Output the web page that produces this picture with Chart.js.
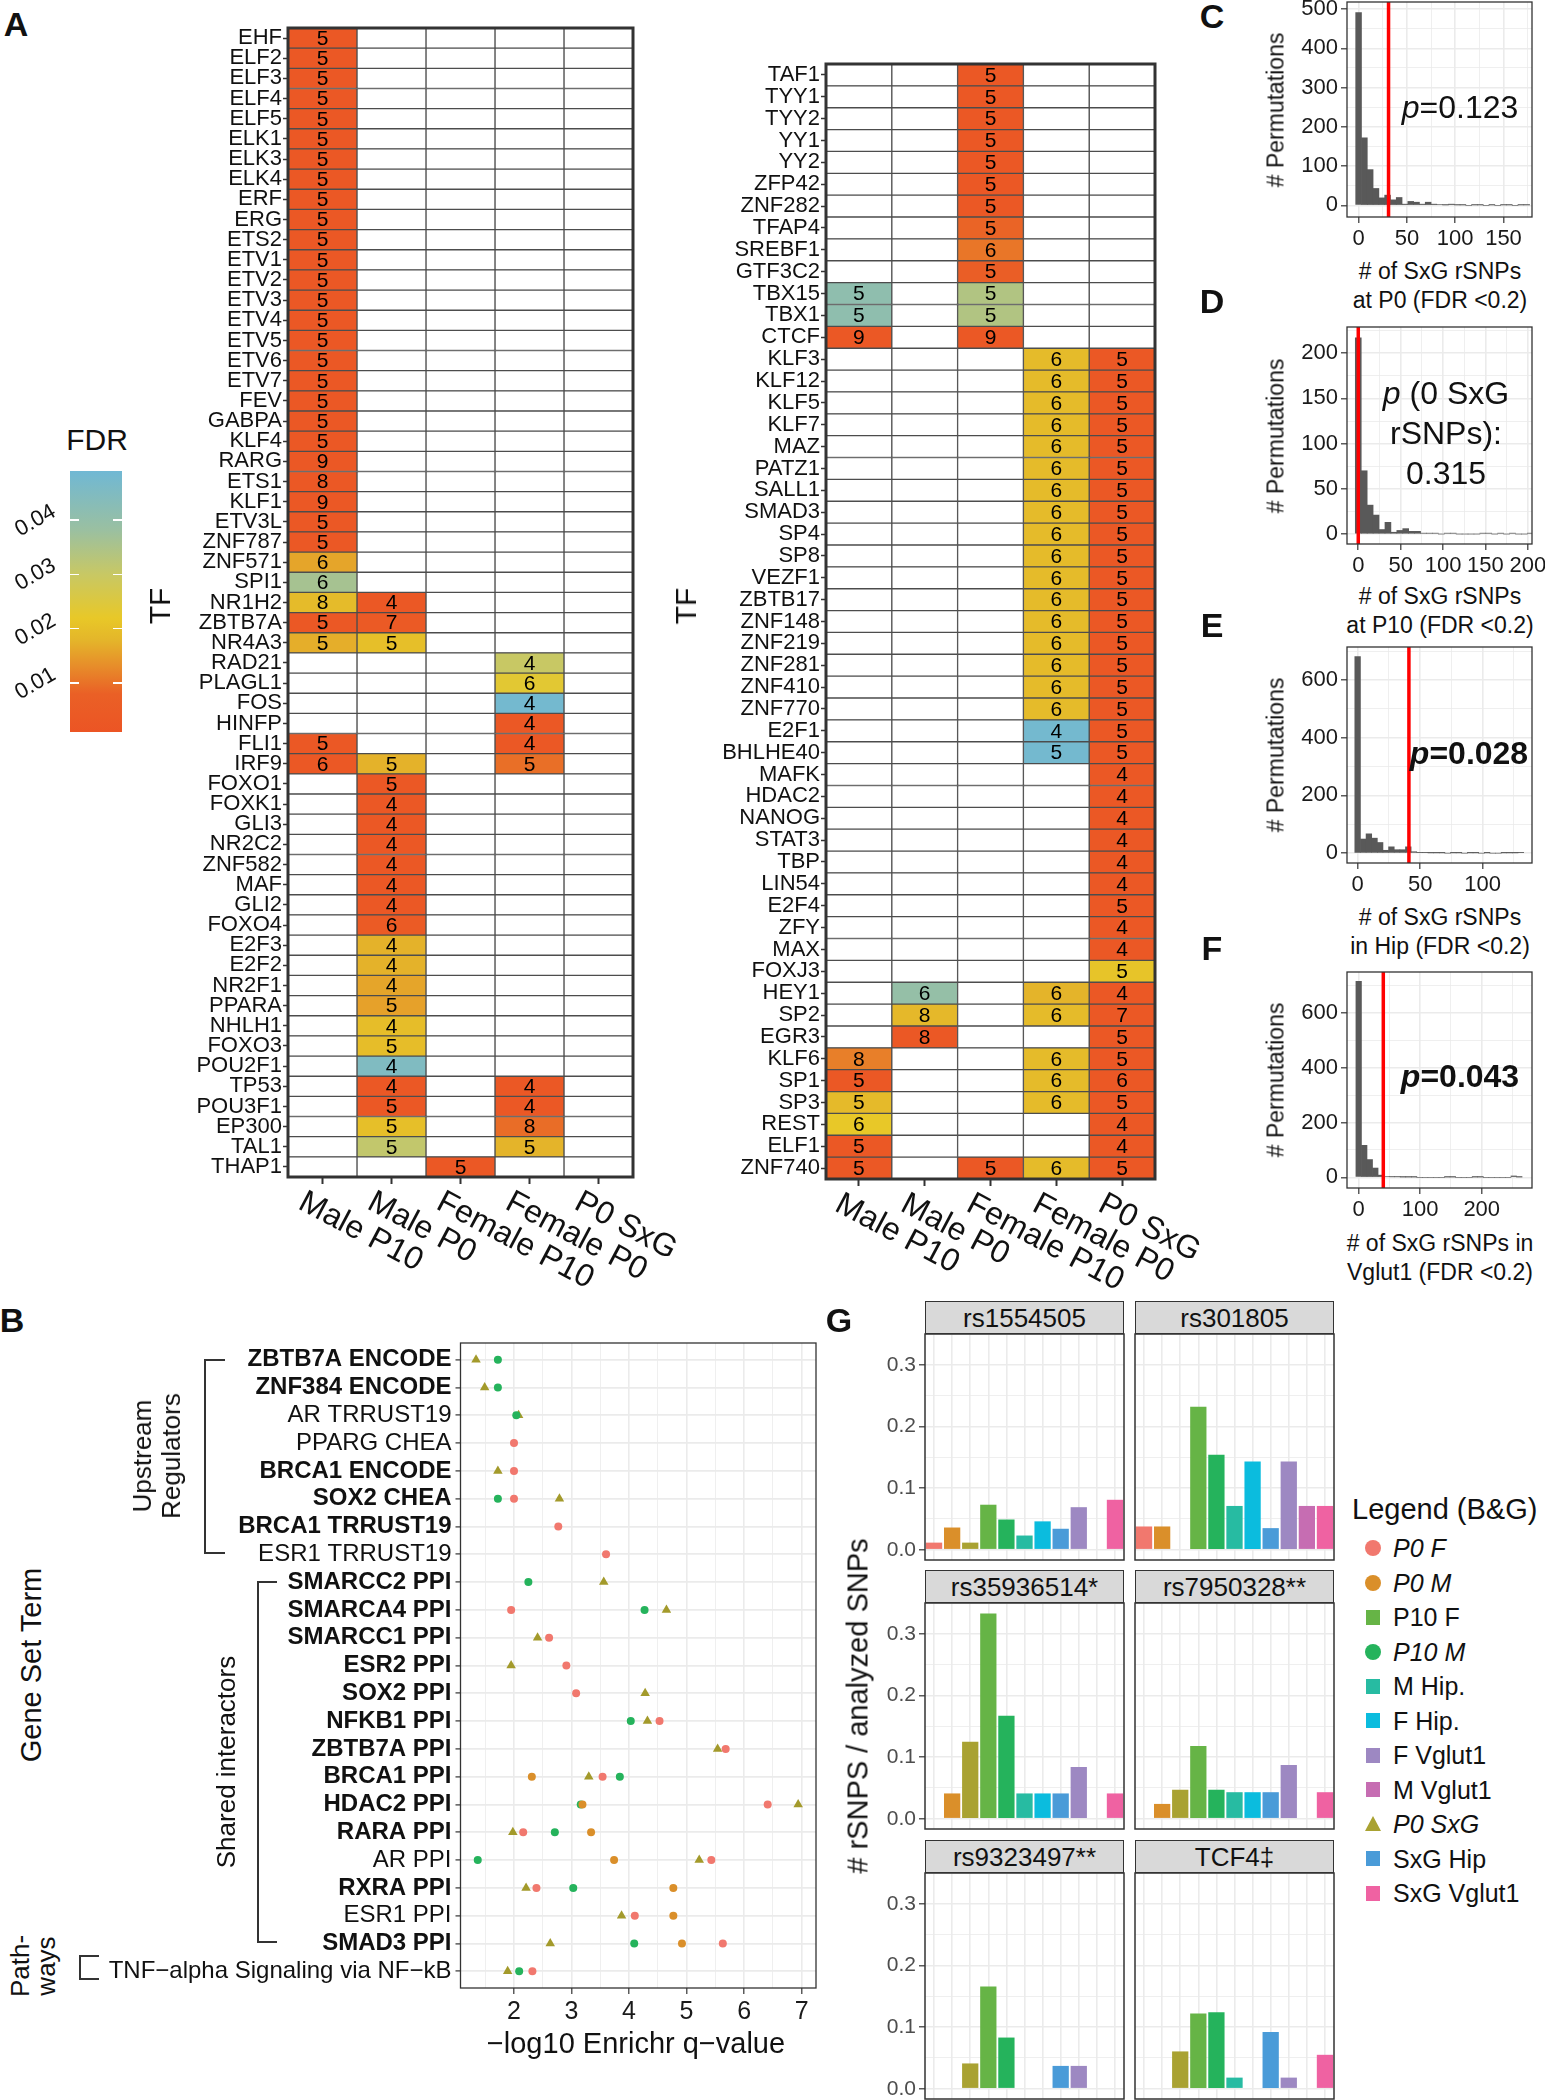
<!DOCTYPE html>
<html>
<head>
<meta charset="utf-8">
<script src="https://cdn.jsdelivr.net/npm/chart.js@4.4.1/dist/chart.umd.min.js"></script>
<style>
  html, body { margin: 0; padding: 0; background: #fff; }
  #fig { position: relative; width: 1545px; height: 2100px; overflow: hidden;
         font-family: 'Liberation Sans', Arial, Helvetica, sans-serif; color: #111; }
  #fig canvas { position: absolute; }
  .t { position: absolute; white-space: nowrap; line-height: 1; }
  .box { position: absolute; box-sizing: border-box; }
</style>
</head>
<body>
<div id="fig"></div>
<script>
// ---------- Panel A : TF heatmaps (number = motif count, colour = FDR) ----------
const _ = null;
const R = 0.003;   // deep red cells
const Y = 0.019;   // yellow cells
const heatCols = ['Male P10', 'Male P0', 'Female P10', 'Female P0', 'P0 SxG'];

const leftTFs = ['EHF','ELF2','ELF3','ELF4','ELF5','ELK1','ELK3','ELK4','ERF','ERG',
  'ETS2','ETV1','ETV2','ETV3','ETV4','ETV5','ETV6','ETV7','FEV','GABPA',
  'KLF4','RARG','ETS1','KLF1','ETV3L','ZNF787','ZNF571','SPI1','NR1H2','ZBTB7A',
  'NR4A3','RAD21','PLAGL1','FOS','HINFP','FLI1','IRF9','FOXO1','FOXK1','GLI3',
  'NR2C2','ZNF582','MAF','GLI2','FOXO4','E2F3','E2F2','NR2F1','PPARA','NHLH1',
  'FOXO3','POU2F1','TP53','POU3F1','EP300','TAL1','THAP1'];

const lMaleP10N = [5,5,5,5,5,5,5,5,5,5, 5,5,5,5,5,5,5,5,5,5, 5,9,8,9,5,5,6,6,8,5,
  5,_,_,_,_,5,6,_,_,_, _,_,_,_,_,_,_,_,_,_, _,_,_,_,_,_,_];
const lMaleP10Q = [R,R,R,R,R,R,R,R,R,R, R,R,R,R,R,R,R,R,R,R, R,R,R,R,R,R,.016,.036,.019,R,
  .017,_,_,_,_,R,R,_,_,_, _,_,_,_,_,_,_,_,_,_, _,_,_,_,_,_,_];
const lMaleP0N = [_,_,_,_,_,_,_,_,_,_, _,_,_,_,_,_,_,_,_,_, _,_,_,_,_,_,_,_,4,7,
  5,_,_,_,_,_,5,5,4,4, 4,4,4,4,6,4,4,4,5,4, 5,4,4,5,5,5,_];
const lMaleP0Q = [_,_,_,_,_,_,_,_,_,_, _,_,_,_,_,_,_,_,_,_, _,_,_,_,_,_,_,_,R,.004,
  .020,_,_,_,_,_,.0175,R,R,R, R,R,R,R,.005,.0175,.0175,.016,.0155,.0195,
  .0195,.045,R,R,.020,.031,_];
const lFemaleP10N = [_,_,_,_,_,_,_,_,_,_, _,_,_,_,_,_,_,_,_,_, _,_,_,_,_,_,_,_,_,_,
  _,_,_,_,_,_,_,_,_,_, _,_,_,_,_,_,_,_,_,_, _,_,_,_,_,_,5];
const lFemaleP10Q = [_,_,_,_,_,_,_,_,_,_, _,_,_,_,_,_,_,_,_,_, _,_,_,_,_,_,_,_,_,_,
  _,_,_,_,_,_,_,_,_,_, _,_,_,_,_,_,_,_,_,_, _,_,_,_,_,_,R];
const lFemaleP0N = [_,_,_,_,_,_,_,_,_,_, _,_,_,_,_,_,_,_,_,_, _,_,_,_,_,_,_,_,_,_,
  _,4,6,4,4,4,5,_,_,_, _,_,_,_,_,_,_,_,_,_, _,_,4,4,8,5,_];
const lFemaleP0Q = [_,_,_,_,_,_,_,_,_,_, _,_,_,_,_,_,_,_,_,_, _,_,_,_,_,_,_,_,_,_,
  _,.030,.0235,.048,R,R,.0097,_,_,_, _,_,_,_,_,_,_,_,_,_, _,_,R,R,.0095,.0178,_];
const lSxGN = leftTFs.map(() => _);
const lSxGQ = leftTFs.map(() => _);

const rightTFs = ['TAF1','TYY1','TYY2','YY1','YY2','ZFP42','ZNF282','TFAP4','SREBF1','GTF3C2',
  'TBX15','TBX1','CTCF','KLF3','KLF12','KLF5','KLF7','MAZ','PATZ1','SALL1',
  'SMAD3','SP4','SP8','VEZF1','ZBTB17','ZNF148','ZNF219','ZNF281','ZNF410','ZNF770',
  'E2F1','BHLHE40','MAFK','HDAC2','NANOG','STAT3','TBP','LIN54','E2F4','ZFY',
  'MAX','FOXJ3','HEY1','SP2','EGR3','KLF6','SP1','SP3','REST','ELF1','ZNF740'];

const rMaleP10N = [_,_,_,_,_,_,_,_,_,_, 5,5,9,_,_,_,_,_,_,_, _,_,_,_,_,_,_,_,_,_,
  _,_,_,_,_,_,_,_,_,_, _,_,_,_,_,8,5,5,6,5, 5];
const rMaleP10Q = [_,_,_,_,_,_,_,_,_,_, .041,.041,R,_,_,_,_,_,_,_, _,_,_,_,_,_,_,_,_,_,
  _,_,_,_,_,_,_,_,_,_, _,_,_,_,_,.0115,R,.0188,.022,R, R];
const rMaleP0N = [_,_,_,_,_,_,_,_,_,_, _,_,_,_,_,_,_,_,_,_, _,_,_,_,_,_,_,_,_,_,
  _,_,_,_,_,_,_,_,_,_, _,_,6,8,8,_,_,_,_,_, _];
const rMaleP0Q = [_,_,_,_,_,_,_,_,_,_, _,_,_,_,_,_,_,_,_,_, _,_,_,_,_,_,_,_,_,_,
  _,_,_,_,_,_,_,_,_,_, _,_,.0395,.0185,R,_,_,_,_,_, _];
const rFemaleP10N = [5,5,5,5,5,5,5,5,6,5, 5,5,9,_,_,_,_,_,_,_, _,_,_,_,_,_,_,_,_,_,
  _,_,_,_,_,_,_,_,_,_, _,_,_,_,_,_,_,_,_,_, 5];
const rFemaleP10Q = [R,R,R,R,R,R,R,.0085,.0105,.007, .034,.034,R,_,_,_,_,_,_,_, _,_,_,_,_,_,_,_,_,_,
  _,_,_,_,_,_,_,_,_,_, _,_,_,_,_,_,_,_,_,_, R];
const rFemaleP0N = [_,_,_,_,_,_,_,_,_,_, _,_,_,6,6,6,6,6,6,6, 6,6,6,6,6,6,6,6,6,6,
  4,5,_,_,_,_,_,_,_,_, _,_,6,6,_,6,6,6,_,_, 6];
const rFemaleP0Q = [_,_,_,_,_,_,_,_,_,_, _,_,_,Y,Y,Y,Y,Y,Y,Y, Y,Y,Y,Y,Y,Y,Y,Y,Y,Y,
  .048,.048,_,_,_,_,_,_,_,_, _,_,.0178,Y,_,Y,Y,Y,_,_, Y];
const rSxGN = [_,_,_,_,_,_,_,_,_,_, _,_,_,5,5,5,5,5,5,5, 5,5,5,5,5,5,5,5,5,5,
  5,5,4,4,4,4,4,4,5,4, 4,5,4,7,5,5,6,5,4,4, 5];
const rSxGQ = [_,_,_,_,_,_,_,_,_,_, _,_,_,R,R,R,R,R,R,R, R,R,R,R,R,R,R,R,R,R,
  R,R,R,R,R,R,R,R,R,R, R,.021,R,R,R,R,R,R,R,R, R];

// FDR colour bar
const fdrTicks = [0.01, 0.02, 0.03, 0.04];
const fdrLimits = [0.001, 0.049];
const fdrStops = [
  [0.000, [236, 83, 36]],
  [0.008, [234, 96, 38]],
  [0.013, [231, 140, 42]],
  [0.018, [228, 182, 42]],
  [0.022, [232, 200, 40]],
  [0.030, [200, 200, 100]],
  [0.038, [155, 192, 160]],
  [0.049, [112, 184, 212]]
];

// ---------- Panels C-F : permutation histograms ----------
const cBins = [0,6,12,18,24,30,36,42,48,54,60,66,72,78,84,90,96,102,108,114,120,126,132,138,144,150,156,162,168,174];
const cCounts = [491,172,91,43,19,26,14,20,3,10,8,3,8,3,2,1,3,1,1,0,1,1,0,1,0,1,1,0,1,1];
const cObserved = 31;
const dBins = [0,7,14,21,28,35,42,49,56,63,70,77,84,91,98,105,112,119,126,133,140,147,154,161,168,175,182,189,196,203];
const dCounts = [217,70,32,21,5,13,2,4,6,3,3,1,1,1,0,1,1,0,0,0,0,1,1,0,1,0,1,0,0,1];
const dObserved = 0;
const eBins = [0,4.5,9,13.5,18,22.5,27,31.5,36,40.5,45,49.5,54,58.5,63,67.5,72,76.5,81,85.5,90,94.5,99,103.5,108,112.5,117,121.5,126,130.5];
const eCounts = [681,49,67,52,37,10,22,12,12,22,5,2,2,1,1,1,0,1,1,0,1,1,0,1,0,0,1,1,1,2];
const eObserved = 41;
const fBins = [0,9,18,27,36,45,54,63,72,81,90,99,108,117,126,135,144,153,162,171,180,189,198,207,216,225,234,243,252,261];
const fCounts = [717,117,65,34,8,3,2,2,1,1,1,0,0,0,0,0,1,1,0,0,0,1,1,0,0,0,0,0,5,1];
const fObserved = 40;

const cXTicks = [0, 50, 100, 150], cYTicks = [0, 100, 200, 300, 400, 500];
const dXTicks = [0, 50, 100, 150, 200], dYTicks = [0, 50, 100, 150, 200];
const eXTicks = [0, 50, 100], eYTicks = [0, 200, 400, 600];
const fXTicks = [0, 100, 200], fYTicks = [0, 200, 400, 600];

// ---------- Panel B : Enrichr dot plot ----------
const bTerms = ['ZBTB7A ENCODE','ZNF384 ENCODE','AR TRRUST19','PPARG CHEA','BRCA1 ENCODE','SOX2 CHEA',
  'BRCA1 TRRUST19','ESR1 TRRUST19','SMARCC2 PPI','SMARCA4 PPI','SMARCC1 PPI','ESR2 PPI','SOX2 PPI',
  'NFKB1 PPI','ZBTB7A PPI','BRCA1 PPI','HDAC2 PPI','RARA PPI','AR PPI','RXRA PPI','ESR1 PPI','SMAD3 PPI',
  'TNF\u2212alpha Signaling via NF\u2212kB'];
const bBold = [1,1,0,0,1,1,1,0,1,1,1,1,1,1,1,1,1,1,0,1,0,1,0];
const bP0F   = [_,_,_,2.00,2.00,2.00,2.77,3.60,_,1.95,2.61,2.91,3.08,4.53,5.68,3.54,6.41,2.16,5.43,2.39,4.10,5.63,2.32];
const bP0M   = [_,_,_,_,_,_,_,_,_,_,_,_,_,_,_,2.31,3.19,3.34,3.74,4.77,4.77,4.92,_];
const bP10M  = [1.72,1.72,2.04,_,_,1.72,_,_,2.25,4.27,_,_,_,4.03,_,3.84,3.16,2.71,1.37,3.03,_,4.09,2.09];
const bP0SxG = [1.34,1.49,2.08,_,1.72,2.79,_,_,3.56,4.65,2.41,1.95,4.28,4.32,5.54,3.30,6.94,1.98,5.22,2.21,3.87,2.63,1.89];
const bXTicks = [2, 3, 4, 5, 6, 7];

// ---------- Panel G : rSNP fraction per facet ----------
const gGroups = ['P0 F','P0 M','P0 SxG','P10 F','P10 M','M Hip.','F Hip.','SxG Hip','F Vglut1','M Vglut1','SxG Vglut1'];
const gTitles = ['rs1554505', 'rs301805', 'rs35936514*', 'rs7950328**', 'rs9323497**', 'TCF4\u2021'];
const gRs1554505  = [0.0115, 0.036, 0.0115, 0.073, 0.049, 0.023, 0.046, 0.034, 0.069, _, 0.081];
const gRs301805   = [0.0377, 0.0377, _, 0.232, 0.154, 0.071, 0.143, 0.035, 0.143, 0.071, 0.071];
const gRs35936514 = [_, 0.041, 0.125, 0.333, 0.167, 0.041, 0.041, 0.041, 0.084, _, 0.041];
const gRs7950328  = [_, 0.024, 0.047, 0.118, 0.047, 0.043, 0.043, 0.043, 0.087, _, 0.043];
const gRs9323497  = [_, _, 0.041, 0.166, 0.083, _, _, 0.037, 0.037, _, _];
const gTCF4       = [_, _, 0.0605, 0.122, 0.124, 0.018, _, 0.092, 0.018, _, 0.055];
const gYTicks = [0, 0.1, 0.2, 0.3];
const gLegend = ['P0 F','P0 M','P10 F','P10 M','M Hip.','F Hip.','F Vglut1','M Vglut1','P0 SxG','SxG Hip','SxG Vglut1'];

// ---------- styling ----------
const FONT = "'Liberation Sans', Arial, Helvetica, sans-serif";
const groupColor = {
  'P0 F': '#F1786E', 'P0 M': '#DA8F2A', 'P0 SxG': '#A9A232', 'P10 F': '#66B446', 'P10 M': '#25B35C',
  'M Hip.': '#27BBA2', 'F Hip.': '#0BBCDE', 'SxG Hip': '#4A9BD8', 'F Vglut1': '#9D88C2',
  'M Vglut1': '#C66DB2', 'SxG Vglut1': '#EF62A2'
};
const groupShape = { 'P0 F': 'circle', 'P0 M': 'circle', 'P10 M': 'circle', 'P0 SxG': 'triangle' };

Chart.defaults.font.family = FONT;
Chart.defaults.color = '#1a1a1a';
Chart.defaults.animation = false;
Chart.defaults.responsive = false;
Chart.defaults.maintainAspectRatio = false;
Chart.defaults.events = [];
Chart.defaults.plugins.legend.display = false;
Chart.defaults.plugins.tooltip.enabled = false;

const fig = document.getElementById('fig');

function addCanvas(l, t, w, h) {
  const c = document.createElement('canvas');
  c.width = w; c.height = h;
  c.style.left = l + 'px'; c.style.top = t + 'px';
  c.style.width = w + 'px'; c.style.height = h + 'px';
  fig.appendChild(c);
  return c;
}

// text placed by its centre (or left edge)
function txt(html, x, y, size, o = {}) {
  const d = document.createElement('div');
  d.className = 't';
  d.innerHTML = html;
  d.style.left = x + 'px';
  d.style.top = y + 'px';
  d.style.fontSize = size + 'px';
  if (o.bold) d.style.fontWeight = 'bold';
  if (o.italic) d.style.fontStyle = 'italic';
  if (o.lh) { d.style.lineHeight = o.lh + 'px'; d.style.textAlign = 'center'; }
  const ax = o.anchor === 'left' ? '0' : '-50%';
  d.style.transform = `translate(${ax}, -50%)` + (o.rot ? ` rotate(${o.rot}deg)` : '');
  fig.appendChild(d);
  return d;
}

function box(l, t, w, h, css) {
  const d = document.createElement('div');
  d.className = 'box';
  Object.assign(d.style, { left: l + 'px', top: t + 'px', width: w + 'px', height: h + 'px' }, css);
  fig.appendChild(d);
  return d;
}

function fdrColor(v) {
  if (v == null) return '#ffffff';
  let i = 0;
  while (i < fdrStops.length - 2 && v > fdrStops[i + 1][0]) i++;
  const [a, ca] = fdrStops[i], [b, cb] = fdrStops[i + 1];
  const t = Math.min(1, Math.max(0, (v - a) / (b - a)));
  const c = ca.map((x, k) => Math.round(x + (cb[k] - x) * t));
  return `rgb(${c.join(',')})`;
}

// fixed axis sizes so every plot area lands where the figure has it
const zeroPad = s => { s.paddingLeft = 0; s.paddingRight = 0; s.paddingTop = 0; s.paddingBottom = 0; };
const fixW = w => s => { s.width = w; zeroPad(s); };
const fixH = h => s => { s.height = h; zeroPad(s); };

function withMinor(maj, min, max) {
  const step = maj[1] - maj[0];
  const out = maj.slice();
  if (maj[0] - step / 2 >= min) out.push(maj[0] - step / 2);
  maj.forEach(m => { if (m + step / 2 <= max + 1e-9) out.push(m + step / 2); });
  return out.sort((a, b) => a - b);
}

// ggplot theme_bw style linear axis (major + minor grid)
function linAxis(range, majors, fmt, size, color) {
  const isMaj = v => majors.some(m => Math.abs(m - v) < 1e-9);
  const all = withMinor(majors, range[0], range[1]);
  return {
    type: 'linear', min: range[0], max: range[1], offset: false,
    afterBuildTicks: s => { s.ticks = all.map(v => ({ value: v })); },
    ticks: { autoSkip: false, maxRotation: 0, minRotation: 0, padding: 3,
             font: { size: size }, color: color,
             callback: v => isMaj(v) ? fmt(v) : '' },
    grid: { offset: false, color: '#EBEBEB',
            lineWidth: c => (c.tick && isMaj(c.tick.value)) ? 1.6 : 0.8,
            tickColor: c => (c.tick && isMaj(c.tick.value)) ? '#333333' : 'rgba(0,0,0,0)',
            tickLength: 6, tickWidth: 1.2 },
    border: { display: false }
  };
}

function framePlugin(color, width) {
  return {
    id: 'frame',
    afterDraw(chart) {
      const a = chart.chartArea, c = chart.ctx;
      c.save();
      c.strokeStyle = color; c.lineWidth = width;
      c.strokeRect(a.left, a.top, a.right - a.left, a.bottom - a.top);
      c.restore();
    }
  };
}

function vlinePlugin(value) {
  return {
    id: 'vline',
    afterDatasetsDraw(chart) {
      const x = chart.scales.x.getPixelForValue(value), a = chart.chartArea, c = chart.ctx;
      c.save();
      c.strokeStyle = '#FF0000'; c.lineWidth = 3.5;
      c.beginPath(); c.moveTo(x, a.top); c.lineTo(x, a.bottom); c.stroke();
      c.restore();
    }
  };
}

function cellTextPlugin(counts) {
  return {
    id: 'cellText',
    afterDatasetsDraw(chart) {
      const c = chart.ctx;
      c.save();
      c.font = `21px ${FONT}`; c.fillStyle = '#000';
      c.textAlign = 'center'; c.textBaseline = 'middle';
      counts.forEach((col, d) => {
        const meta = chart.getDatasetMeta(d);
        col.forEach((v, i) => {
          if (v == null) return;
          const el = meta.data[i];
          c.fillText(String(v), (el.x + el.base) / 2, el.y + 1);
        });
      });
      c.restore();
    }
  };
}

function colLabelPlugin(o) {
  return {
    id: 'colLabels',
    afterDraw(chart) {
      const xs = chart.scales.x, c = chart.ctx, b = chart.chartArea.bottom;
      c.save();
      c.font = `${o.size}px ${FONT}`; c.fillStyle = '#111';
      c.textAlign = 'left'; c.textBaseline = 'top';
      heatCols.forEach((t, i) => {
        c.save();
        c.translate(xs.getPixelForValue(i) + o.dx, b + o.dy);
        c.rotate(o.angle * Math.PI / 180);
        c.fillText(t, 0, 0);
        c.restore();
      });
      c.restore();
    }
  };
}

// ---------- Panel A ----------
function heatmap(rows, counts, fdr, area, cbox) {
  const [al, at, ar, ab] = area;
  const [cl, ct, cw, ch] = cbox;
  const cv = addCanvas(cl, ct, cw, ch);
  const datasets = heatCols.map((name, c) => ({
    label: name,
    data: rows.map(() => [c - 0.5, c + 0.5]),
    backgroundColor: fdr[c].map(fdrColor),
    borderColor: '#4d4d4d', borderWidth: 1, borderSkipped: false,
    grouped: false, barPercentage: 1, categoryPercentage: 1
  }));
  new Chart(cv, {
    type: 'bar',
    data: { labels: rows, datasets },
    options: {
      indexAxis: 'y',
      layout: { padding: { left: 0, top: at - ct, right: cl + cw - ar, bottom: 0 } },
      scales: {
        x: { type: 'linear', min: -0.5, max: 4.5, offset: false,
             afterBuildTicks: s => { s.ticks = heatCols.map((n, i) => ({ value: i })); },
             ticks: { display: false },
             grid: { offset: false, drawOnChartArea: false, tickLength: 7, tickColor: '#333', tickWidth: 2 },
             border: { display: false },
             afterFit: fixH(ct + ch - ab) },
        y: { type: 'category', offset: true,
             ticks: { autoSkip: false, font: { size: 22 }, color: '#111', padding: 1 },
             grid: { offset: false, drawOnChartArea: false, tickLength: 5, tickColor: '#333', tickWidth: 1.5 },
             border: { display: false },
             afterFit: fixW(al - cl) }
      }
    },
    plugins: [cellTextPlugin(counts), framePlugin('#333', 3),
              colLabelPlugin({ size: 32, angle: 28, dx: -14, dy: 9 })]
  });
}

heatmap(leftTFs,
  [lMaleP10N, lMaleP0N, lFemaleP10N, lFemaleP0N, lSxGN],
  [lMaleP10Q, lMaleP0Q, lFemaleP10Q, lFemaleP0Q, lSxGQ],
  [288, 28, 633, 1177], [150, 20, 560, 1300]);
heatmap(rightTFs,
  [rMaleP10N, rMaleP0N, rFemaleP10N, rFemaleP0N, rSxGN],
  [rMaleP10Q, rMaleP0Q, rFemaleP10Q, rFemaleP0Q, rSxGQ],
  [826, 64, 1155, 1179], [700, 56, 560, 1270]);

txt('A', 16, 24, 34, { bold: true });
txt('TF', 160, 606, 30, { rot: -90 });
txt('TF', 686, 606, 30, { rot: -90 });

// FDR colour bar legend
(function () {
  const l = 70, t = 471, w = 52, h = 261;
  const span = fdrLimits[1] - fdrLimits[0];
  const stops = fdrStops.map(([v, c]) =>
    `rgb(${c.join(',')}) ${(((v - fdrLimits[0]) / span) * 100).toFixed(1)}%`).join(', ');
  box(l, t, w, h, { background: `linear-gradient(to top, ${stops})` });
  txt('FDR', 97, 440, 30);
  fdrTicks.forEach(v => {
    const y = t + h * (1 - (v - fdrLimits[0]) / span);
    box(l, y - 0.75, 9, 1.5, { background: '#fff' });
    box(l + w - 9, y - 0.75, 9, 1.5, { background: '#fff' });
    txt(v.toFixed(2), 35, y, 22, { rot: -30 });
  });
})();

// ---------- Panels C-F ----------
function histogram(area, bins, counts, xRange, yRange, xTicks, yTicks, observed) {
  const [l, t, r, b] = area;
  const cl = 1272, ct = t - 2, xh = 36;
  const cv = addCanvas(cl, ct, 1545 - cl, b - ct + xh);
  const xa = linAxis(xRange, xTicks, String, 22, '#1a1a1a');
  xa.afterFit = fixH(xh);
  const ya = linAxis(yRange, yTicks, String, 22, '#1a1a1a');
  ya.afterFit = fixW(l - cl);
  new Chart(cv, {
    type: 'bar',
    data: { datasets: [{ data: bins.map((x, i) => ({ x: x, y: counts[i] })),
                         backgroundColor: '#595959', barPercentage: 1, categoryPercentage: 1 }] },
    options: {
      layout: { padding: { left: 0, top: t - ct, right: 1545 - r, bottom: 0 } },
      scales: { x: xa, y: ya }
    },
    plugins: [vlinePlugin(observed), framePlugin('#333', 1.3)]
  });
  txt('# Permutations', 1276, (t + b) / 2, 23, { rot: -90 });
}

histogram([1347, 2, 1532, 217], cBins, cCounts, [-12, 179.5], [-29.7, 518], cXTicks, cYTicks, cObserved);
histogram([1347, 327, 1532, 544], dBins, dCounts, [-13.3, 205], [-11, 229], dXTicks, dYTicks, dObserved);
histogram([1347, 647, 1532, 863], eBins, eCounts, [-8.5, 139.4], [-34, 714], eXTicks, eYTicks, eObserved);
histogram([1347, 972, 1532, 1188], fBins, fCounts, [-19, 281.7], [-39, 751], fXTicks, fYTicks, fObserved);

txt('C', 1212, 16, 34, { bold: true });
txt('D', 1212, 301, 34, { bold: true });
txt('E', 1212, 625, 34, { bold: true });
txt('F', 1212, 948, 34, { bold: true });
txt('# of SxG rSNPs<br>at P0 (FDR &lt;0.2)', 1440, 286, 23, { lh: 29 });
txt('# of SxG rSNPs<br>at P10 (FDR &lt;0.2)', 1440, 611, 23, { lh: 29 });
txt('# of SxG rSNPs<br>in Hip (FDR &lt;0.2)', 1440, 932, 23, { lh: 29 });
txt('# of SxG rSNPs in<br>Vglut1 (FDR &lt;0.2)', 1440, 1258, 23, { lh: 29 });
txt('<i>p</i>=0.123', 1460, 107, 32);
txt('<i>p</i> (0 SxG<br>rSNPs):<br>0.315', 1446, 433, 32, { lh: 40 });
txt('<i>p</i>=0.028', 1469, 753, 32, { bold: true });
txt('<i>p</i>=0.043', 1460, 1076, 32, { bold: true });

// ---------- Panel B ----------
(function () {
  const rowPts = vals => vals.map((v, i) => v == null ? null : { x: v, y: i + 1 }).filter(p => p);
  const series = [
    ['P0 F', bP0F], ['P0 M', bP0M], ['P10 M', bP10M], ['P0 SxG', bP0SxG]
  ];
  const cv = addCanvas(100, 1335, 730, 700);
  const xa = linAxis([1.07, 7.25], bXTicks, String, 25, '#1a1a1a');
  xa.afterFit = fixH(47);
  new Chart(cv, {
    type: 'scatter',
    data: {
      datasets: series.map(([name, vals]) => ({
        label: name,
        data: rowPts(vals),
        pointStyle: groupShape[name] || 'circle',
        pointRadius: groupShape[name] === 'triangle' ? 5.5 : 4,
        pointBackgroundColor: name === 'P0 SxG' ? '#A39A2B' : groupColor[name],
        pointBorderWidth: 0
      }))
    },
    options: {
      layout: { padding: { left: 0, top: 8, right: 14, bottom: 0 } },
      scales: {
        x: xa,
        y: { type: 'linear', reverse: true, min: 0.4, max: 23.6, offset: false,
             afterBuildTicks: s => { s.ticks = bTerms.map((t, i) => ({ value: i + 1 })); },
             ticks: { autoSkip: false, padding: 4, color: '#111',
                      callback: v => bTerms[v - 1],
                      font: c => ({ size: 24, weight: (c.tick && bBold[c.tick.value - 1]) ? 'bold' : 'normal' }) },
             grid: { color: '#EBEBEB', lineWidth: 1.8, tickLength: 5, tickColor: '#333', tickWidth: 1.2 },
             border: { display: false },
             afterFit: fixW(360.5) }
      }
    },
    plugins: [framePlugin('#333', 1.3)]
  });
})();

txt('B', 12, 1320, 34, { bold: true });
txt('Gene Set Term', 31, 1665, 29, { rot: -90 });
txt('Upstream<br>Regulators', 157, 1456, 26, { rot: -90, lh: 29 });
txt('Shared interactors', 226, 1762, 26, { rot: -90 });
txt('Path-<br>ways', 33, 1966, 26, { rot: -90, lh: 26 });
txt('\u2212log10 Enrichr q\u2212value', 636, 2043, 29);
box(204, 1359, 21, 195, { borderLeft: '2px solid #333', borderTop: '2px solid #333', borderBottom: '2px solid #333' });
box(257, 1581, 20, 362, { borderLeft: '2px solid #333', borderTop: '2px solid #333', borderBottom: '2px solid #333' });
box(79, 1955, 20, 25, { borderLeft: '2px solid #333', borderTop: '2px solid #333', borderBottom: '2px solid #333' });

// ---------- Panel G ----------
(function () {
  const colLeft = [925, 1135], rowTop = [1334, 1603, 1873];
  const pw = 199, ph = 226, sh = 33;
  const facets = [gRs1554505, gRs301805, gRs35936514, gRs7950328, gRs9323497, gTCF4];
  facets.forEach((vals, k) => {
    const col = k % 2, row = Math.floor(k / 2);
    const L = colLeft[col], T = rowTop[row], Rr = L + pw, B = T + ph;
    const cl = col === 0 ? 858 : L - 2, ct = T - 3;
    const cv = addCanvas(cl, ct, Rr + 3 - cl, B + 3 - ct);
    const ya = linAxis([-0.0167, 0.35], gYTicks, v => v.toFixed(1), 21, '#4d4d4d');
    ya.afterFit = fixW(L - cl);
    if (col === 1) { ya.ticks.display = false; ya.grid.drawTicks = false; }
    new Chart(cv, {
      type: 'bar',
      data: { labels: gGroups,
              datasets: [{ data: vals, backgroundColor: gGroups.map(g => groupColor[g]),
                           barPercentage: 0.9, categoryPercentage: 1 }] },
      options: {
        layout: { padding: { left: 0, top: T - ct, right: 3, bottom: 0 } },
        scales: {
          x: { type: 'category', offset: true,
               grid: { offset: false, color: '#EBEBEB', lineWidth: 1.6, drawTicks: false },
               ticks: { display: false }, border: { display: false }, afterFit: fixH(3) },
          y: ya
        }
      },
      plugins: [framePlugin('#333', 1.5)]
    });
    box(L, T - sh, pw, sh, { background: '#D9D9D9', border: '1.5px solid #333' });
    txt(gTitles[k], L + pw / 2, T - sh / 2, 26);
  });

  txt('G', 839, 1320, 34, { bold: true });
  txt('# rSNPS / analyzed SNPs', 858, 1706, 29, { rot: -90 });

  // shared legend for B & G
  txt('Legend (B&amp;G)', 1352, 1509, 29, { anchor: 'left' });
  gLegend.forEach((g, i) => {
    const cy = 1548 + i * 34.5, cx = 1373;
    const shape = groupShape[g] || 'square';
    const col = groupColor[g];
    if (shape === 'circle') {
      box(cx - 8, cy - 8, 16, 16, { background: col, borderRadius: '50%' });
    } else if (shape === 'triangle') {
      box(cx - 8, cy - 8, 0, 0, { borderLeft: '8px solid transparent', borderRight: '8px solid transparent',
                                  borderBottom: '15px solid ' + col, width: '0px', height: '0px' });
    } else {
      box(cx - 7, cy - 7.5, 14, 15, { background: col });
    }
    txt(g, 1393, cy, 25, { anchor: 'left', italic: !!groupShape[g] });
  });
})();
</script>
</body>
</html>
